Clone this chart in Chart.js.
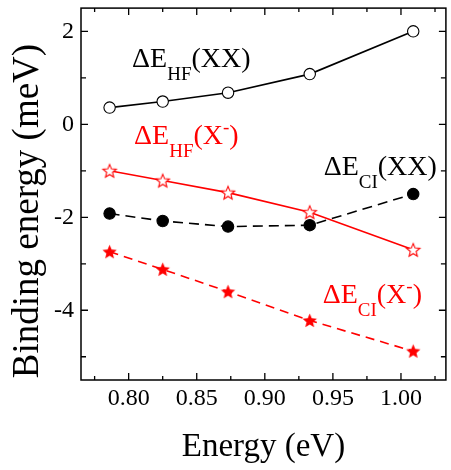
<!DOCTYPE html>
<html><head><meta charset="utf-8">
<script src="https://cdn.jsdelivr.net/npm/chart.js@4.4.1/dist/chart.umd.min.js"></script>
<style>html,body{margin:0;padding:0;background:#fff;overflow:hidden;}
#wrap{position:relative;width:454px;height:470px;}</style>
</head><body><div id="wrap"><canvas id="c"></canvas></div>
<script>
// ---- data ----
const energy = [0.786, 0.825, 0.873, 0.933, 1.009];
const hfXX = [0.36, 0.49, 0.68, 1.08, 2.00];
const hfXminus = [-1.00, -1.21, -1.47, -1.89, -2.70];
const ciXX = [-1.92, -2.08, -2.20, -2.17, -1.50];
const ciXminus = [-2.74, -3.12, -3.60, -4.22, -4.88];

const xMajorTicks = [0.80, 0.85, 0.90, 0.95, 1.00];
const xTickLabels = ['0.80', '0.85', '0.90', '0.95', '1.00'];
const xMinorTicks = [0.775, 0.825, 0.875, 0.925, 0.975, 1.025];
const yMajorTicks = [-4, -2, 0, 2];
const yTickLabels = ['-4', '-2', '0', '2'];
const yMinorTicks = [-5, -3, -1, 1];

const xTitle = 'Energy (eV)';
const yTitle = 'Binding energy (meV)';

// series labels: [main, subscript, rest, superscript-minus?]
const seriesLabels = [
  { main: 'ΔE', sub: 'HF', tail: '(XX)', minus: false },
  { main: 'ΔE', sub: 'HF', tail: '(X', minus: true },
  { main: 'ΔE', sub: 'CI', tail: '(XX)', minus: false },
  { main: 'ΔE', sub: 'CI', tail: '(X', minus: true }
];
// label anchors in data units (left, baseline)
const labelAnchorX = [0.8025, 0.804, 0.9432, 0.9425];
const labelAnchorY = [1.24, -0.42, -1.10, -3.85];

const RED = 'rgb(255,0,0)';
const BLACK = '#000';
const labelColors = [BLACK, RED, BLACK, RED];
const FONT = 'Liberation Serif';
Chart.defaults.font.family = FONT;

function pts(xs, ys) { return xs.map((x, i) => ({ x: x, y: ys[i] })); }

function starCanvas(fill, stroke, R, r, lw) {
  const s = Math.ceil(2 * R + lw + 2);
  const c = document.createElement('canvas');
  c.width = c.height = s;
  const g = c.getContext('2d');
  g.translate(s / 2, s / 2 + 0.6);
  g.beginPath();
  for (let i = 0; i < 10; i++) {
    const a = -Math.PI / 2 + i * Math.PI / 5;
    const rad = (i % 2) ? r : R;
    g.lineTo(rad * Math.cos(a), rad * Math.sin(a));
  }
  g.closePath();
  g.fillStyle = fill; g.fill();
  if (stroke) { g.strokeStyle = stroke; g.lineWidth = lw; g.stroke(); }
  return c;
}
const openStar = starCanvas('#fff', RED, 7.0, 3.1, 1.1);
const solidStar = starCanvas(RED, null, 7.5, 3.4, 0);

function near(a, b) { return Math.abs(a - b) < 1e-9; }

const frameTicks = {
  id: 'frameTicks',
  beforeDatasetsDraw(chart) {
    const { ctx, chartArea: a, scales } = chart;
    const xs = scales.x, ys = scales.y;
    ctx.save();
    ctx.strokeStyle = '#000';
    ctx.lineWidth = 1.5;
    ctx.strokeRect(a.left, a.top, a.right - a.left, a.bottom - a.top);
    ctx.lineWidth = 1.3;
    ctx.beginPath();
    xMajorTicks.concat(xMinorTicks).forEach(v => {
      const p = xs.getPixelForValue(v);
      const L = xMajorTicks.some(m => near(m, v)) ? 7 : 4;
      ctx.moveTo(p, a.bottom); ctx.lineTo(p, a.bottom - L);
      ctx.moveTo(p, a.top); ctx.lineTo(p, a.top + L);
    });
    yMajorTicks.concat(yMinorTicks).forEach(v => {
      const p = ys.getPixelForValue(v);
      const L = yMajorTicks.some(m => near(m, v)) ? 7 : 5;
      ctx.moveTo(a.left, p); ctx.lineTo(a.left + L, p);
      ctx.moveTo(a.right, p); ctx.lineTo(a.right - L, p);
    });
    ctx.stroke();
    ctx.restore();
  },
  afterDraw(chart) {
    const { ctx, scales } = chart;
    ctx.save();
    // y title
    ctx.fillStyle = '#000';
    ctx.translate(28, 211);
    ctx.rotate(-Math.PI / 2);
    ctx.font = '37px ' + FONT;
    ctx.textAlign = 'center';
    ctx.textBaseline = 'middle';
    ctx.fillText(yTitle, 0, 0);
    ctx.restore();
    // series labels
    ctx.save();
    ctx.textAlign = 'left';
    ctx.textBaseline = 'alphabetic';
    seriesLabels.forEach((lab, i) => {
      let x = scales.x.getPixelForValue(labelAnchorX[i]);
      const y = scales.y.getPixelForValue(labelAnchorY[i]);
      ctx.fillStyle = labelColors[i];
      ctx.font = '28px ' + FONT;
      ctx.fillText(lab.main, x, y);
      x += ctx.measureText(lab.main).width;
      ctx.font = '19px ' + FONT;
      ctx.fillText(lab.sub, x, y + 13);
      x += ctx.measureText(lab.sub).width;
      ctx.font = '28px ' + FONT;
      ctx.fillText(lab.tail, x, y);
      x += ctx.measureText(lab.tail).width;
      if (lab.minus) {
        ctx.font = '19px ' + FONT;
        ctx.fillText('-', x, y - 11);
        x += ctx.measureText('-').width;
        ctx.font = '28px ' + FONT;
        ctx.fillText(')', x, y);
      }
    });
    ctx.restore();
  }
};

const lineBase = { borderWidth: 1.6, tension: 0, fill: false, pointBorderWidth: 1.1 };

new Chart(document.getElementById('c'), {
  type: 'line',
  data: {
    datasets: [
      Object.assign({}, lineBase, { label: 'ΔE_HF(XX)', data: pts(energy, hfXX), borderColor: BLACK,
        pointStyle: 'circle', pointRadius: 5.7, pointBackgroundColor: '#fff', pointBorderColor: BLACK }),
      Object.assign({}, lineBase, { label: 'ΔE_HF(X-)', data: pts(energy, hfXminus), borderColor: RED,
        pointStyle: openStar, pointRadius: 7 }),
      Object.assign({}, lineBase, { label: 'ΔE_CI(XX)', data: pts(energy, ciXX), borderColor: BLACK, borderDash: [10, 6],
        pointStyle: 'circle', pointRadius: 5.7, pointBackgroundColor: BLACK, pointBorderColor: BLACK }),
      Object.assign({}, lineBase, { label: 'ΔE_CI(X-)', data: pts(energy, ciXminus), borderColor: RED, borderDash: [9, 6],
        pointStyle: solidStar, pointRadius: 7 })
    ]
  },
  options: {
    responsive: true,
    maintainAspectRatio: false,
    animation: false,
    devicePixelRatio: 1,
    layout: { padding: { top: 5, right: 2, left: 0, bottom: 0 } },
    plugins: { legend: { display: false }, tooltip: { enabled: false } },
    scales: {
      x: {
        type: 'linear', min: 0.765, max: 1.033,
        grid: { display: false, drawTicks: false },
        border: { display: false },
        afterBuildTicks: s => { s.ticks = xMajorTicks.concat(xMinorTicks).sort((a, b) => a - b).map(v => ({ value: v })); },
        afterFit: s => { s.height = 90; s.paddingLeft = 0; s.paddingRight = 0; },
        ticks: {
          autoSkip: false, maxRotation: 0, padding: 4, color: '#000',
          font: { family: FONT, size: 24 },
          callback: v => { const i = xMajorTicks.findIndex(m => near(m, v)); return i >= 0 ? xTickLabels[i] : ''; }
        },
        title: { display: true, text: xTitle, color: '#000', font: { family: FONT, size: 33 }, padding: { top: 0, bottom: 3 } }
      },
      y: {
        type: 'linear', min: -5.5, max: 2.5,
        grid: { display: false, drawTicks: false },
        border: { display: false },
        afterBuildTicks: s => { s.ticks = yMajorTicks.concat(yMinorTicks).sort((a, b) => a - b).map(v => ({ value: v })); },
        afterFit: s => { s.width = 81; s.paddingTop = 0; s.paddingBottom = 0; },
        ticks: {
          autoSkip: false, padding: 7, color: '#000',
          font: { family: FONT, size: 24 },
          callback: v => { const i = yMajorTicks.findIndex(m => near(m, v)); return i >= 0 ? yTickLabels[i] : ''; }
        }
      }
    }
  },
  plugins: [frameTicks]
});
</script>
</body></html>
